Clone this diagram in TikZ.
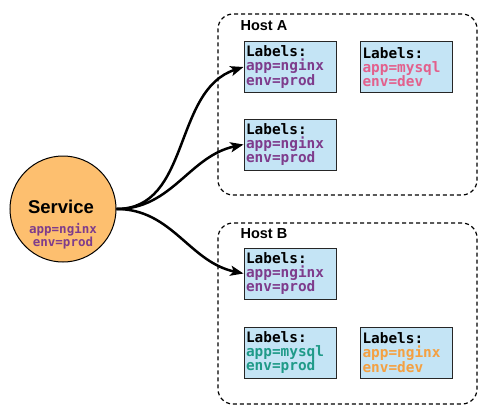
\documentclass[tikz,border=0pt]{standalone}
\usepackage{fontspec}
\setmainfont{Liberation Sans}
\setmonofont{DejaVu Sans Mono}
\usetikzlibrary{arrows.meta}
\definecolor{boxfill}{HTML}{C4E4F5}
\definecolor{svcfill}{HTML}{FDBF6F}
\definecolor{cpurple}{HTML}{7E3C8C}
\definecolor{cpink}{HTML}{E3608C}
\definecolor{cteal}{HTML}{1F9A88}
\definecolor{corange}{HTML}{F4A041}
\tikzset{
  labelbox/.style={draw=black!85, line width=1pt, fill=boxfill, rectangle,
    text width=88pt, inner xsep=2pt, inner ysep=0pt, minimum height=51pt, align=left,
    font=\ttfamily\bfseries\fontsize{14.4}{14.2}\selectfont},
  hostbox/.style={draw=black, line width=1.2pt, dash pattern=on 4pt off 3pt,
    rounded corners=15pt, minimum width=259pt, minimum height=181pt, rectangle},
  hosttitle/.style={anchor=west, font=\bfseries\fontsize{14.5}{14.5}\selectfont},
  conn/.style={line width=2.5pt, -{Stealth[length=13pt,width=10pt,inset=3pt]}},
  svclabel/.style={align=center, text=cpurple, inner sep=0pt,
    font=\ttfamily\bfseries\fontsize{12.5}{12}\selectfont},
}
\begin{document}
\begin{tikzpicture}[x=1pt,y=-1pt]
\useasboundingbox (0,0) rectangle (490,415);
\node[hostbox] (hostA) at (347.5,104.5) {};
\node[hostbox] (hostB) at (347.5,313.5) {};
\node[hosttitle] (titleA) at (237,26) {Host A};
\node[hosttitle] (titleB) at (237,234) {Host B};
\node[labelbox] (b1) at (290,67) {Labels:\\\textcolor{cpurple}{app=nginx}\\\textcolor{cpurple}{env=prod}};
\node[labelbox] (b2) at (406.5,67) {Labels:\\\textcolor{cpink}{app=mysql}\\\textcolor{cpink}{env=dev}};
\node[labelbox] (b3) at (290,144.5) {Labels:\\\textcolor{cpurple}{app=nginx}\\\textcolor{cpurple}{env=prod}};
\node[labelbox] (b4) at (290,273.5) {Labels:\\\textcolor{cpurple}{app=nginx}\\\textcolor{cpurple}{env=prod}};
\node[labelbox] (b5) at (290,352.5) {Labels:\\\textcolor{cteal}{app=mysql}\\\textcolor{cteal}{env=prod}};
\node[labelbox] (b6) at (406.5,352.5) {Labels:\\\textcolor{corange}{app=nginx}\\\textcolor{corange}{env=dev}};
\node[circle, draw=black, line width=1pt, fill=svcfill, minimum size=106pt, inner sep=0pt] (svc) at (63,209) {};
\node[font=\bfseries\fontsize{18.5}{18}\selectfont, inner sep=0pt] (svcname) at (61,207) {Service};
\node[svclabel] (svclab) at (63,236) {app=nginx\\env=prod};
\draw[conn] (svc.east) to[out=0,in=198] (b1.west);
\draw[conn] (svc.east) to[out=0,in=192] (b3.west);
\draw[conn] (svc.east) to[out=0,in=168] (b4.west);
\end{tikzpicture}
\end{document}
